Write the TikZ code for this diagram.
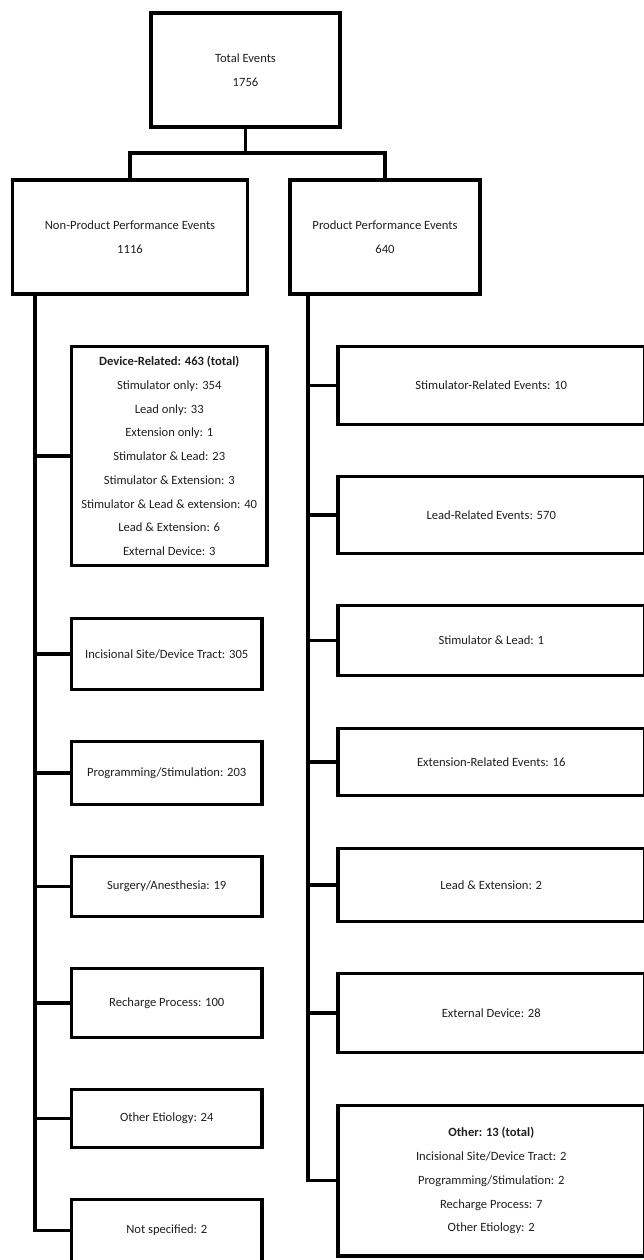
\documentclass[tikz,border=0pt]{standalone}
\usepackage{fontspec}
\setmainfont{Carlito}
\begin{document}
\begin{tikzpicture}[x=1pt,y=-1pt,
  box/.style={draw=black,line width=3.3pt,rectangle,inner sep=0pt,outer sep=0pt,
    align=center,font=\fontsize{12.6}{23.7}\selectfont,text=black!88},
  rbox/.style={box,minimum width=306.5pt},
  wire/.style={draw=black,line width=3.3pt}]
\useasboundingbox (0,0) rectangle (643,1260);
% top level
\node[box,minimum width=189pt,minimum height=114pt] (tot) at (245.5,70) {Total Events\\1756};
\node[box,minimum width=235pt,minimum height=114pt] (np) at (130,237) {Non-Product Performance Events\\1116};
\node[box,minimum width=190pt,minimum height=114pt] (pp) at (385,237) {Product Performance Events\\640};
\coordinate (br) at (245.5,153);
\draw[wire] (tot.south) -- (br);
\draw[wire] (np.north) |- (br) -| (pp.north);
% left column
\coordinate (lt) at (35,0);
\node[box,minimum width=195.5pt,minimum height=219pt] (dev) at (169.25,456)
  {\textbf{Device-Related: 463 (total)}\\Stimulator only: 354\\Lead only: 33\\Extension only: 1\\Stimulator \& Lead: 23\\Stimulator \& Extension: 3\\Stimulator \& Lead \& extension: 40\\Lead \& Extension: 6\\External Device: 3};
\node[box,minimum width=190.5pt,minimum height=71pt] (inc) at (166.75,654) {Incisional Site/Device Tract: 305};
\node[box,minimum width=190.5pt,minimum height=63pt] (prog) at (166.75,773) {Programming/Stimulation: 203};
\node[box,minimum width=190.5pt,minimum height=60pt] (surg) at (166.75,886.5) {Surgery/Anesthesia: 19};
\node[box,minimum width=190.5pt,minimum height=69pt] (rech) at (166.75,1003) {Recharge Process: 100};
\node[box,minimum width=190.5pt,minimum height=58pt] (oeti) at (166.75,1118.5) {Other Etiology: 24};
\node[box,minimum width=190.5pt,minimum height=62pt] (nspec) at (166.75,1230.5) {Not specified: 2};
\draw[wire] (lt |- np.south) |- (nspec.west);
\foreach \n in {dev,inc,prog,surg,rech,oeti}{\draw[wire] (lt |- \n.west) -- (\n.west);}
% right column
\coordinate (rt) at (308,0);
\node[rbox,minimum height=78pt] (srel) at (491.25,385.5) {Stimulator-Related Events: 10};
\node[rbox,minimum height=77pt] (lrel) at (491.25,515) {Lead-Related Events: 570};
\node[rbox,minimum height=70pt] (sl) at (491.25,640.5) {Stimulator \& Lead: 1};
\node[rbox,minimum height=67pt] (erel) at (491.25,762) {Extension-Related Events: 16};
\node[rbox,minimum height=73pt] (le) at (491.25,885) {Lead \& Extension: 2};
\node[rbox,minimum height=79pt] (edev) at (491.25,1013) {External Device: 28};
\node[rbox,minimum height=150.5pt] (oth) at (491.25,1180.75)
  {\textbf{Other: 13 (total)}\\Incisional Site/Device Tract: 2\\Programming/Stimulation: 2\\Recharge Process: 7\\Other Etiology: 2};
\draw[wire] (rt |- pp.south) |- (oth.west);
\foreach \n in {srel,lrel,sl,erel,le,edev}{\draw[wire] (rt |- \n.west) -- (\n.west);}
\end{tikzpicture}
\end{document}
